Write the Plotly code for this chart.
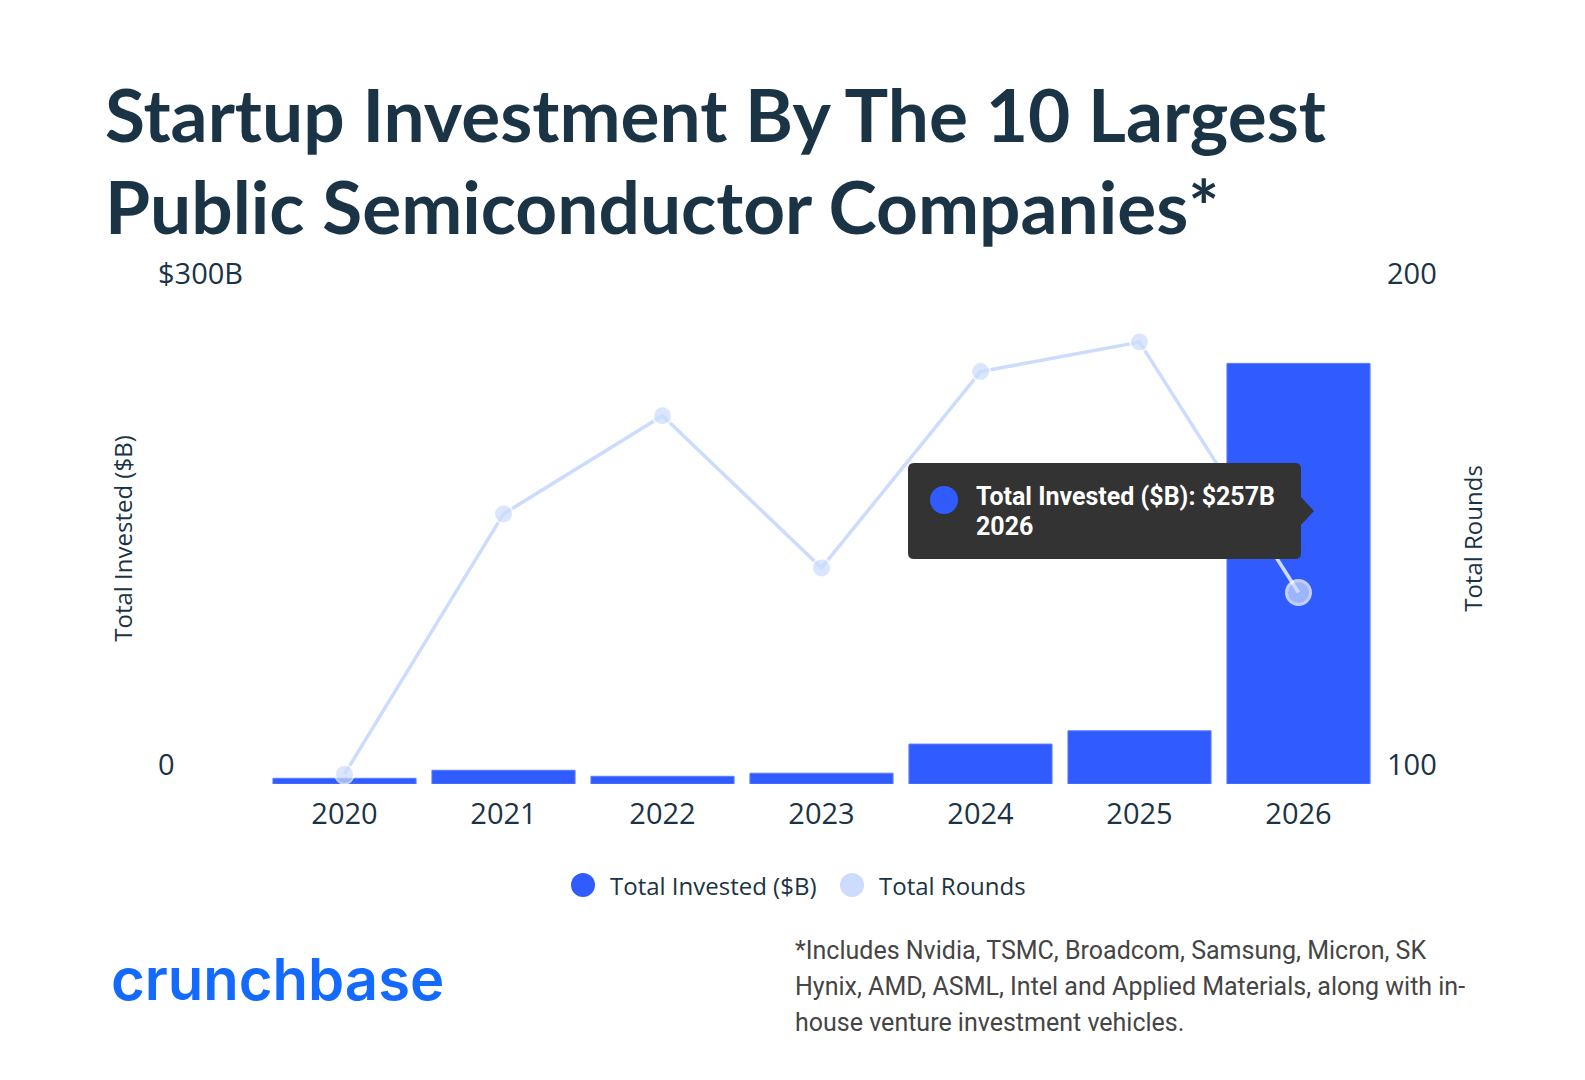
import plotly.graph_objects as go

# chart data
years = ["2020", "2021", "2022", "2023", "2024", "2025", "2026"]
invested = [3.5, 8.4, 4.7, 6.6, 24.4, 32.5, 257]
rounds = [102, 155, 175, 144, 184, 190, 139]

invested_ticks = [0, 300]
invested_ticktext = ["0", "$300B"]
rounds_ticks = [100, 200]

legend_names = ["Total Invested ($B)", "Total Rounds"]

W, H = 1585, 1080
L, R, T, B = 100, 100, 285, 304

DARK = "#1a3345"
BLUE = "#2f5bff"
LIGHT = "#cbdcfd"
AX_FONT = "Open Sans"


def px_x(x):
    return (x - L) / (W - L - R)


def px_y(y):
    return (H - B - y) / (H - T - B)


fig = go.Figure()

fig.add_trace(go.Bar(x=years, y=invested, name=legend_names[0],
                     marker=dict(color=BLUE, line=dict(color="#5b7dff", width=1)),
                     showlegend=False))

fig.add_trace(go.Scatter(x=years, y=rounds, name=legend_names[1], yaxis="y2",
                         mode="lines+markers",
                         line=dict(color=LIGHT, width=3.5),
                         marker=dict(size=[19] * 6 + [24], color=LIGHT,
                                     line=dict(color="white", width=[2] * 6 + [3])),
                         showlegend=False))

# titel
fig.add_annotation(text="<b>Startup Investment By The 10 Largest</b>", x=px_x(95), y=px_y(106),
                   xref="paper", yref="paper", xanchor="left", yanchor="middle", showarrow=False,
                   font=dict(family="Lato", size=73, color=DARK))
fig.add_annotation(text="<b>Public Semiconductor Companies*</b>", x=px_x(95), y=px_y(198),
                   xref="paper", yref="paper", xanchor="left", yanchor="middle", showarrow=False,
                   font=dict(family="Lato", size=73, color=DARK))

# legende (runde Symbole wie im Original)
leg_x = [575, 844]
for name, color, lx in zip(legend_names, [BLUE, LIGHT], leg_x):
    fig.add_shape(type="circle", x0=px_x(lx - 12), x1=px_x(lx + 12), y0=px_y(877 - 12), y1=px_y(877 + 12),
                  xref="paper", yref="paper", fillcolor=color, line_width=0)
    fig.add_annotation(text=name, x=px_x(lx + 25), y=px_y(877), xref="paper", yref="paper",
                       xanchor="left", yanchor="middle", showarrow=False,
                       font=dict(family=AX_FONT, size=24, color=DARK))


# tooltip (statisch, wie im Screenshot)
def rounded_box(x0, y0, x1, y1, r):
    X = lambda v: px_x(v)
    Y = lambda v: px_y(v)
    return (f"M {X(x0 + r)} {Y(y0)} L {X(x1 - r)} {Y(y0)} Q {X(x1)} {Y(y0)} {X(x1)} {Y(y0 + r)} "
            f"L {X(x1)} {Y(y1 - r)} Q {X(x1)} {Y(y1)} {X(x1 - r)} {Y(y1)} "
            f"L {X(x0 + r)} {Y(y1)} Q {X(x0)} {Y(y1)} {X(x0)} {Y(y1 - r)} "
            f"L {X(x0)} {Y(y0 + r)} Q {X(x0)} {Y(y0)} {X(x0 + r)} {Y(y0)} Z")


fig.add_shape(type="path", path=rounded_box(900, 455, 1293, 551, 6), xref="paper", yref="paper",
              fillcolor="#333333", line_width=0, layer="above")
fig.add_shape(type="path",
              path=f"M {px_x(1292)} {px_y(488)} L {px_x(1306)} {px_y(503)} L {px_x(1292)} {px_y(518)} Z",
              xref="paper", yref="paper", fillcolor="#333333", line_width=0, layer="above")
fig.add_shape(type="circle", x0=px_x(922), x1=px_x(950), y0=px_y(478), y1=px_y(506),
              xref="paper", yref="paper", fillcolor=BLUE, line_width=0, layer="above")
fig.add_annotation(text=f"<b>Total Invested ($B): ${invested[-1]:.0f}B</b>",
                   x=px_x(966), y=px_y(488), xref="paper", yref="paper",
                   xanchor="left", yanchor="middle", showarrow=False,
                   font=dict(family="Roboto", size=25, color="white"))
fig.add_annotation(text=f"<b>{years[-1]}</b>",
                   x=px_x(966), y=px_y(518), xref="paper", yref="paper",
                   xanchor="left", yanchor="middle", showarrow=False,
                   font=dict(family="Roboto", size=25, color="white"))

# crunchbase logo
fig.add_annotation(text="crunchbase", x=px_x(101), y=px_y(971), xref="paper", yref="paper",
                   xanchor="left", yanchor="middle", showarrow=False,
                   font=dict(family="Inter", size=58, color="#146aff", weight=600))

# fussnote
notes = ["*Includes Nvidia, TSMC, Broadcom, Samsung, Micron, SK",
         "Hynix, AMD, ASML, Intel and Applied Materials, along with in-",
         "house venture investment vehicles."]
for i, line in enumerate(notes):
    fig.add_annotation(text=line, x=px_x(785), y=px_y(942 + 36 * i), xref="paper", yref="paper",
                       xanchor="left", yanchor="middle", showarrow=False,
                       font=dict(family="Roboto", size=25, color="#454545"))

fig.update_layout(
    width=W, height=H,
    margin=dict(l=L, r=R, t=T, b=B),
    plot_bgcolor="white", paper_bgcolor="white",
    bargap=0.1,
    hovermode=False,
    showlegend=False,
    xaxis=dict(domain=[px_x(257), px_x(1370)], type="category", automargin=False,
               range=[-0.5, len(years) - 0.5],
               showgrid=False, showline=False, ticks="", zeroline=False,
               tickfont=dict(family=AX_FONT, size=29, color=DARK), ticklabelstandoff=10),
    yaxis=dict(range=[0, 300], tickvals=invested_ticks, ticktext=invested_ticktext,
               ticklabelposition="inside", ticklabelstandoff=-110, ticklabeloverflow="allow",
               automargin=False,
               showgrid=False, zeroline=False, showline=False, ticks="",
               ticklabelshift=-19,
               tickfont=dict(family=AX_FONT, size=29, color=DARK),
               title=dict(text="Total Invested ($B)", standoff=18,
                          font=dict(family=AX_FONT, size=24, color=DARK))),
    yaxis2=dict(range=[100, 200], tickvals=rounds_ticks, overlaying="y", side="right", anchor="x",
                automargin=False, ticklabeloverflow="allow",
                showgrid=False, zeroline=False, showline=False, ticks="",
                ticklabelshift=-19, ticklabelstandoff=8,
                tickfont=dict(family=AX_FONT, size=29, color=DARK),
                title=dict(text="Total Rounds", standoff=29,
                           font=dict(family=AX_FONT, size=24, color=DARK))),
)

fig.write_html("out.html")
